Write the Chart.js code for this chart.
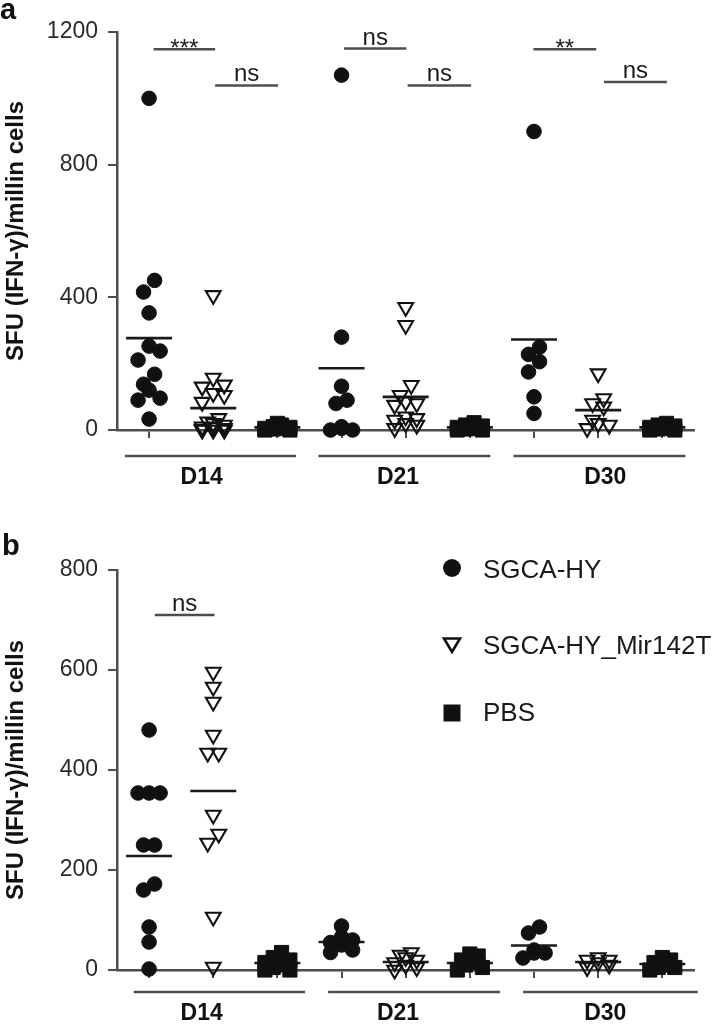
<!DOCTYPE html>
<html>
<head>
<meta charset="utf-8">
<script src="https://cdn.jsdelivr.net/npm/chart.js@4.4.0/dist/chart.umd.min.js"></script>
<style>
  html, body { margin: 0; padding: 0; background: #ffffff; }
  .wrap { position: absolute; left: 0; width: 720px; }
  #wrapA { top: 0; height: 500px; }
  #wrapB { top: 500px; height: 527px; }
  canvas { display: block; }
</style>
</head>
<body>
<div class="wrap" id="wrapA"><canvas id="cA" width="720" height="500"></canvas></div>
<div class="wrap" id="wrapB"><canvas id="cB" width="720" height="527"></canvas></div>
<script>
// ================= DATA =================
const days = ['D14', 'D21', 'D30'];
const seriesNames = ['SGCA-HY', 'SGCA-HY_Mir142T', 'PBS'];
const yTitle = 'SFU (IFN-γ)/millin cells';

// ---- Panel a ----
const aSgcaD14 = [1000, 451, 416, 353, 253, 238, 211, 168, 138, 120, 96, 90, 33];
const aSgcaD21 = [1070, 280, 132, 90, 80, 10, 5, 0, 0];
const aSgcaD30 = [900, 250, 228, 206, 175, 100, 50];
const aMirD14 = [406, 157, 136, 130, 111, 105, 84, 35, 25, 20, 15, 10, 8, 5, 3, 0, 0, 0];
const aMirD21 = [370, 316, 135, 105, 85, 80, 75, 40, 35, 30, 20, 15, 5];
const aMirD30 = [170, 95, 80, 70, 30, 20, 15, 5];
const aPbsD14 = [20, 15, 10, 8, 5, 5, 3, 0, 0];
const aPbsD21 = [22, 15, 12, 8, 5, 3, 0, 0];
const aPbsD30 = [20, 15, 12, 8, 5, 3, 0, 0];
const aMeans = [277, 66, 8, 186, 100, 8, 273, 60, 8];
const aTicks = [0, 400, 800, 1200];
const aSigLabel = ['***', 'ns', 'ns', 'ns', '**', 'ns'];
const aSigFrom = [0.07, 1.03, 3.04, 4.03, 5.99, 7.09];
const aSigTo = [1.03, 2.01, 4.01, 5.02, 6.97, 8.07];
const aSigY = [1148, 1039, 1150, 1039, 1148, 1049];

// ---- Panel b ----
const bSgcaD14 = [480, 354, 354, 354, 250, 250, 172, 160, 86, 56, 2];
const bSgcaD21 = [88, 66, 60, 55, 50, 40, 35];
const bSgcaD30 = [86, 74, 40, 34, 34, 24];
const bMirD14 = [596, 566, 536, 470, 434, 434, 310, 272, 254, 106, 6];
const bMirD21 = [35, 30, 25, 20, 15, 10, 5, 0];
const bMirD30 = [25, 20, 20, 15, 10, 5];
const bPbsD14 = [35, 25, 20, 15, 10, 5, 0, 0];
const bPbsD21 = [32, 28, 20, 15, 10, 5, 0];
const bPbsD30 = [25, 20, 15, 10, 5, 5, 0];
const bMeans = [228, 358, 14, 56, 16, 14, 49, 16, 12];
const bTicks = [0, 200, 400, 600, 800];
const bSigLabel = ['ns'];
const bSigFrom = [0.09];
const bSigTo = [1.02];
const bSigY = [710];

// ================= STYLE / LAYOUT =================
const FONT = "'Liberation Sans', Arial, Helvetica, sans-serif";
const AXIS = '#4d4d4d';
const INK = '#111111';
Chart.defaults.font.family = FONT;

// rows of near-equal values are spread sideways; highest value of a row sits in the middle
function arrange(vals, thr, maxRow) {
  const order = vals.map((v, i) => i).sort((a, b) => vals[a] - vals[b]);
  const offs = new Array(vals.length).fill(0);
  let row = [];
  const flush = () => {
    const n = row.length;
    const slots = [];
    for (let j = 0; j < n; j++) slots.push(j - (n - 1) / 2);
    slots.sort((p, q) => Math.abs(q) - Math.abs(p) || p - q); // outermost first
    row.forEach((k, j) => { offs[k] = slots[j]; });
    row = [];
  };
  order.forEach(k => {
    if (row.length && (vals[k] - vals[row[0]] >= thr || row.length >= maxRow)) flush();
    row.push(k);
  });
  flush();
  return offs;
}

function buildPoints(byDay, s, thr, maxRow, col) {
  const out = [];
  byDay.forEach((vals, d) => {
    const offs = arrange(vals, thr, maxRow);
    vals.forEach((v, i) => out.push({ x: d * 3 + s + offs[i] * col, y: v }));
  });
  return out;
}

const decor = {
  id: 'decor',
  afterDatasetsDraw(chart, args, o) {
    const ctx = chart.ctx, xs = chart.scales.x, ys = chart.scales.y;
    ctx.save();
    ctx.strokeStyle = AXIS; ctx.lineWidth = 2.5;
    days.forEach((g, i) => {
      const x1 = xs.getPixelForValue(o.groupFrom[i]), x2 = xs.getPixelForValue(o.groupTo[i]);
      ctx.beginPath(); ctx.moveTo(x1, o.groupLineY); ctx.lineTo(x2, o.groupLineY); ctx.stroke();
      ctx.font = 'bold 23px ' + FONT; ctx.fillStyle = INK;
      ctx.textAlign = 'center'; ctx.textBaseline = 'middle';
      ctx.fillText(g, xs.getPixelForValue(o.groupLabelX[i]), o.groupLabelY);
    });
    o.sigLabel.forEach((lab, i) => {
      const x1 = xs.getPixelForValue(o.sigFrom[i]), x2 = xs.getPixelForValue(o.sigTo[i]);
      const y = ys.getPixelForValue(o.sigY[i]);
      ctx.strokeStyle = AXIS; ctx.lineWidth = 2.5;
      ctx.beginPath(); ctx.moveTo(x1, y); ctx.lineTo(x2, y); ctx.stroke();
      ctx.font = '24px ' + FONT; ctx.fillStyle = '#1a1a1a';
      ctx.textAlign = 'center'; ctx.textBaseline = 'alphabetic';
      const ty = lab.indexOf('*') >= 0 ? y + 7 : y - 4;
      ctx.fillText(lab, (x1 + x2) / 2, ty);
    });
    ctx.font = 'bold 29px ' + FONT; ctx.fillStyle = INK;
    ctx.textAlign = 'left'; ctx.textBaseline = 'alphabetic';
    ctx.fillText(o.letter, o.letterX, o.letterY);
    if (o.legend) {
      const lx = 452, tx = 483;
      ctx.fillStyle = INK;
      ctx.beginPath(); ctx.arc(lx, 68, 9, 0, Math.PI * 2); ctx.fill();
      ctx.strokeStyle = INK; ctx.lineWidth = 2.6;
      ctx.beginPath(); ctx.moveTo(lx - 8, 138.5); ctx.lineTo(lx + 8, 138.5); ctx.lineTo(lx, 152); ctx.closePath(); ctx.stroke();
      ctx.fillRect(lx - 8.5, 204.5, 17, 17);
      ctx.font = '26px ' + FONT; ctx.fillStyle = '#1a1a1a';
      ctx.textAlign = 'left'; ctx.textBaseline = 'middle';
      ctx.fillText(seriesNames[0], tx, 71);
      ctx.fillText(seriesNames[1], tx, 147);
      ctx.fillText(seriesNames[2], tx, 214);
    }
    ctx.restore();
  }
};

function makeChart(canvasId, P) {
  const H = P.H;
  const pxPerUnit = (P.bottom - P.top) / P.yMax;
  const thrC = 15 / pxPerUnit, thrS = 13 / pxPerUnit;
  const COL = 0.172, COLS = 0.13;
  const sg = buildPoints(P.sgca, 0, thrC, 3, COL);
  const mi = buildPoints(P.mir, 1, thrC, 3, COL);
  const pb = buildPoints(P.pbs, 2, thrS, 4, COLS);
  const means = P.means.map((m, i) => ({ x: i, y: m }));
  return new Chart(document.getElementById(canvasId), {
    type: 'scatter',
    data: {
      datasets: [
        { label: seriesNames[0], data: sg, pointStyle: 'circle', pointRadius: 7.3, borderWidth: 1,
          backgroundColor: INK, borderColor: INK, clip: false },
        { label: seriesNames[1], data: mi, pointStyle: 'triangle', rotation: 180, pointRadius: 8.5, borderWidth: 2.1,
          backgroundColor: 'rgba(255,255,255,0)', borderColor: INK, clip: false },
        { label: seriesNames[2], data: pb, pointStyle: 'rect', pointRadius: 10, borderWidth: 1,
          backgroundColor: INK, borderColor: INK, clip: false },
        { label: 'mean', data: means, pointStyle: 'line', pointRadius: 23, borderWidth: 2.6,
          borderColor: '#1a1a1a', backgroundColor: '#1a1a1a', clip: false }
      ]
    },
    options: {
      responsive: false, animation: false, events: [],
      layout: { padding: { top: P.top, left: 0, right: 2, bottom: 0 } },
      plugins: {
        legend: { display: false }, tooltip: { enabled: false },
        decor: P.decor
      },
      scales: {
        x: {
          type: 'linear', min: -0.5, max: 8.5,
          afterBuildTicks: s => { s.ticks = [0, 1, 2, 3, 4, 5, 6, 7, 8].map(v => ({ value: v })); },
          afterFit: s => { s.height = H - P.bottom; s.paddingLeft = 0; s.paddingRight = 0; },
          ticks: { display: false },
          grid: { drawOnChartArea: false, drawTicks: true, tickLength: 8, color: AXIS, lineWidth: 2 },
          border: { display: true, color: AXIS, width: 2.5 }
        },
        y: {
          type: 'linear', min: 0, max: P.yMax,
          afterBuildTicks: s => { s.ticks = P.ticks.map(v => ({ value: v })); },
          afterFit: s => { s.width = 117; s.paddingTop = 0; s.paddingBottom = 0; },
          ticks: { color: '#2a2a2a', font: { size: 23 }, padding: 10, callback: v => String(v) },
          grid: { drawOnChartArea: false, drawTicks: true, tickLength: 9, color: AXIS, lineWidth: 2 },
          border: { display: true, color: AXIS, width: 2.5 },
          title: { display: true, text: yTitle, color: INK, font: { size: 24, weight: 'bold' }, padding: { top: 1.5, bottom: 0 } }
        }
      }
    },
    plugins: [decor]
  });
}

makeChart('cA', {
  H: 500, top: 32, bottom: 430, yMax: 1200, ticks: aTicks,
  sgca: [aSgcaD14, aSgcaD21, aSgcaD30], mir: [aMirD14, aMirD21, aMirD30], pbs: [aPbsD14, aPbsD21, aPbsD30],
  means: aMeans,
  decor: {
    groupFrom: [-0.375, 2.64, 5.68], groupTo: [2.29, 5.32, 8.36], groupLabelX: [0.82, 3.88, 7.11],
    groupLineY: 456, groupLabelY: 478,
    sigLabel: aSigLabel, sigFrom: aSigFrom, sigTo: aSigTo, sigY: aSigY,
    letter: 'a', letterX: 0, letterY: 19, legend: false
  }
});

makeChart('cB', {
  H: 527, top: 70, bottom: 470, yMax: 800, ticks: bTicks,
  sgca: [bSgcaD14, bSgcaD21, bSgcaD30], mir: [bMirD14, bMirD21, bMirD30], pbs: [bPbsD14, bPbsD21, bPbsD30],
  means: bMeans,
  decor: {
    groupFrom: [-0.24, 2.79, 5.83], groupTo: [2.43, 5.47, 8.55], groupLabelX: [0.82, 3.88, 7.11],
    groupLineY: 492, groupLabelY: 514,
    sigLabel: bSigLabel, sigFrom: bSigFrom, sigTo: bSigTo, sigY: bSigY,
    letter: 'b', letterX: 2, letterY: 55, legend: true
  }
});
</script>
</body>
</html>
